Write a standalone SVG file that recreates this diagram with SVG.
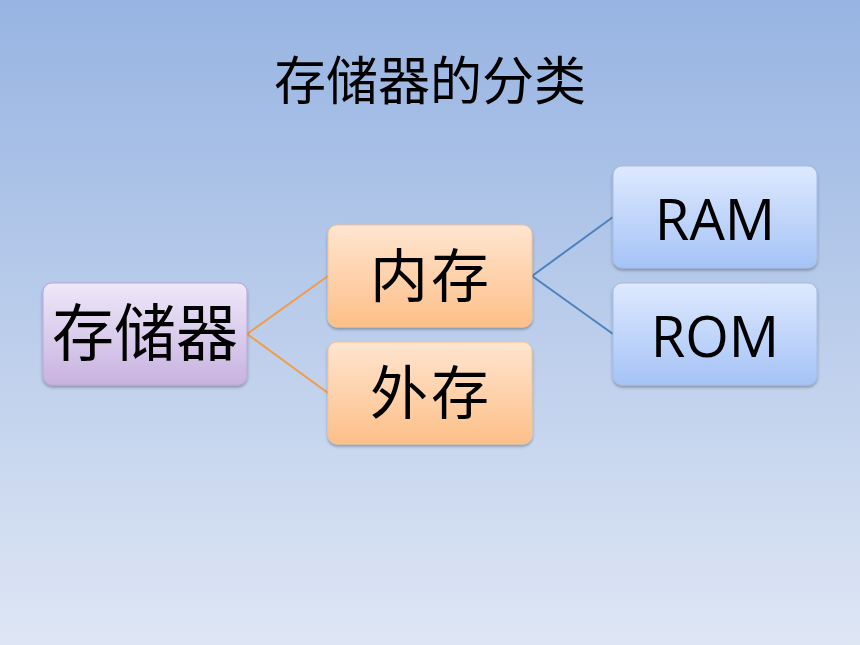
<svg xmlns="http://www.w3.org/2000/svg" width="860" height="645" viewBox="0 0 860 645">
<defs>
<linearGradient id="bg" x1="0" y1="0" x2="0" y2="1">
<stop offset="0" stop-color="#97b4e2"/>
<stop offset="1" stop-color="#dee6f4"/>
</linearGradient>
<linearGradient id="gp" x1="0" y1="0" x2="0" y2="1">
<stop offset="0" stop-color="#eee8f8"/>
<stop offset="1" stop-color="#c8b2e0"/>
</linearGradient>
<linearGradient id="go" x1="0" y1="0" x2="0" y2="1">
<stop offset="0" stop-color="#ffe5cf"/>
<stop offset="1" stop-color="#fdbf88"/>
</linearGradient>
<linearGradient id="gb" x1="0" y1="0" x2="0" y2="1">
<stop offset="0" stop-color="#dee9ff"/>
<stop offset="1" stop-color="#a5c3f6"/>
</linearGradient>
<filter id="sh" x="-10%" y="-10%" width="130%" height="140%">
<feDropShadow dx="0" dy="2" stdDeviation="1.5" flood-color="#000" flood-opacity="0.3"/>
</filter>
</defs>
<style>
.box{stroke-width:1;filter:url(#sh)}
.p{fill:url(#gp);stroke:#b9a6d8}
.o{fill:url(#go);stroke:#f2c39a}
.b{fill:url(#gb);stroke:#a3bde6}
.cjk{font-family:"Noto Sans CJK SC","Noto Sans",sans-serif;fill:#000;text-anchor:middle}
.lat{font-family:"Open Sans","Noto Sans",sans-serif;fill:#000;text-anchor:middle}
.co{stroke:#f39b4a;stroke-width:2;fill:none}
.cb{stroke:#4f81bd;stroke-width:2;fill:none}
</style>
<rect width="860" height="645" fill="url(#bg)"/>
<text class="cjk" x="430" y="100" font-size="52">存储器的分类</text>
<g id="connectors">
<path class="co" d="M247,334 L328,276"/>
<path class="co" d="M247,334 L328,393"/>
<path class="cb" d="M532,276 L613,217"/>
<path class="cb" d="M532,276 L613,334"/>
</g>
<g id="n-storage">
<rect class="box p" x="43" y="283" width="204" height="102" rx="9"/>
<text class="cjk" x="145" y="356" font-size="62">存储器</text>
</g>
<g id="n-internal">
<rect class="box o" x="328" y="225" width="204" height="102" rx="9"/>
<text class="cjk" x="431" y="297" font-size="58" letter-spacing="3">内存</text>
</g>
<g id="n-external">
<rect class="box o" x="328" y="342" width="204" height="102" rx="9"/>
<text class="cjk" x="431" y="414" font-size="58" letter-spacing="3">外存</text>
</g>
<g id="n-ram">
<rect class="box b" x="613" y="166" width="204" height="102" rx="9"/>
<text class="lat" x="715" y="240" font-size="56">RAM</text>
</g>
<g id="n-rom">
<rect class="box b" x="613" y="283" width="204" height="102" rx="9"/>
<text class="lat" x="715" y="357" font-size="56">ROM</text>
</g>
</svg>
